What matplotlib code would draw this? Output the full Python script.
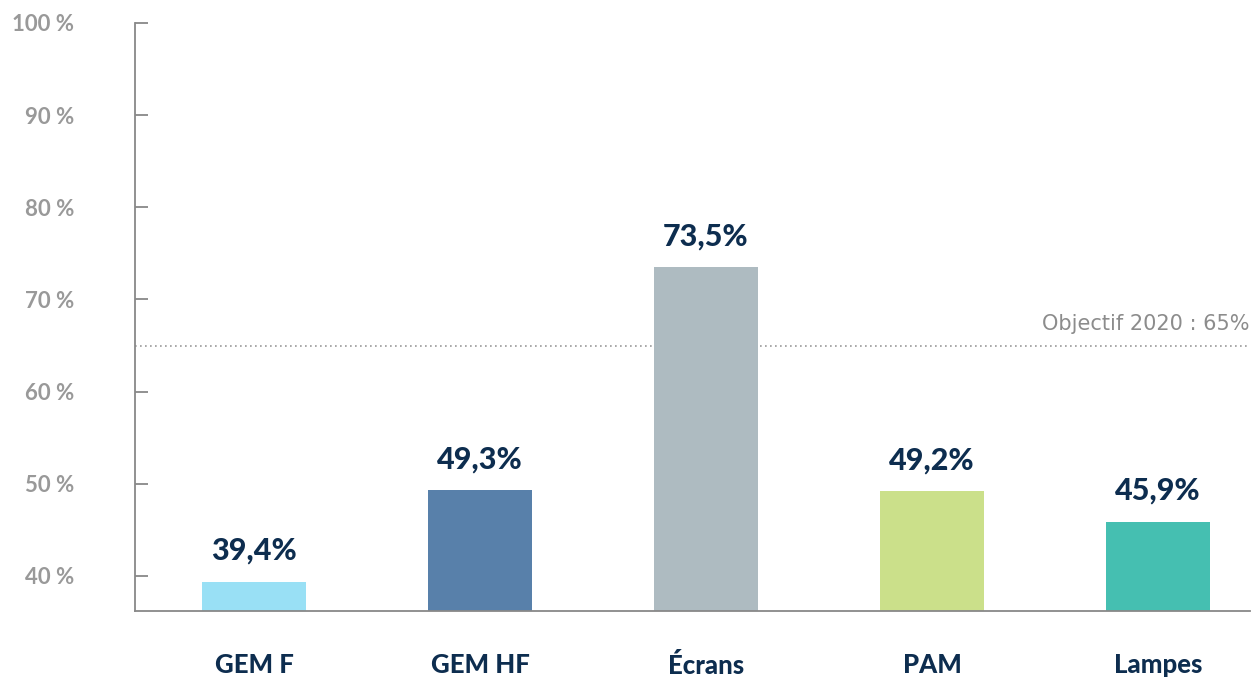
import matplotlib
matplotlib.use("Agg")
import matplotlib.pyplot as plt

categories = ["GEM F", "GEM HF", "Écrans", "PAM", "Lampes"]
values = [39.4, 49.3, 73.5, 49.2, 45.9]
value_labels = ["39,4%", "49,3%", "73,5%", "49,2%", "45,9%"]
colors = ["#99e0f5", "#5880aa", "#aebbc1", "#cbe08a", "#45bfb1"]
yticks = [40, 50, 60, 70, 80, 90, 100]
ytick_labels = ["40 %", "50 %", "60 %", "70 %", "80 %", "90 %", "100 %"]
target = 65
target_label = "Objectif 2020 : 65%"

navy = "#0d2d4f"
grey = "#999999"

fig = plt.figure(figsize=(12.54, 6.79), dpi=100)
ax = fig.add_axes([135/1254, 1-611/679, (1250-135)/1254, (611-20)/679])

ymin = 36.2
ymax = ymin + 591/9.217
positions = [0, 1, 2, 3, 4]
ax.bar(positions, [v - ymin for v in values], bottom=ymin, width=0.46, color=colors, zorder=2)

for x, v, lab in zip(positions, values, value_labels):
    ax.annotate(lab, (x, v), xytext=(0, 12), textcoords="offset points",
                ha="center", va="bottom", fontsize=22, fontweight="black",
                color=navy, family="Lato")

ax.axhline(target, color="#999999", linestyle=(0, (1, 2)), linewidth=1.2, zorder=1)
ax.text(1.0, target + 1.2, target_label, transform=ax.get_yaxis_transform(),
        ha="right", va="bottom", fontsize=15, color="#8c8c8c", family="DejaVu Sans")

ax.set_ylim(ymin, ymax)
ax.set_xlim(-0.527, 4.407)
ax.set_yticks(yticks)
ax.set_yticklabels(ytick_labels, fontsize=16, color=grey, family="Lato", fontweight="bold")
ax.tick_params(axis="y", direction="in", length=9, width=1.3, color="#888888", pad=44)
ax.set_xticks(positions)
ax.set_xticklabels(categories, fontsize=18.5, fontweight="black", color=navy, family="Lato")
ax.tick_params(axis="x", length=0, pad=30)

for s in ["top", "right"]:
    ax.spines[s].set_visible(False)
ax.spines["left"].set_color("#888888")
ax.spines["left"].set_linewidth(1.3)
ax.spines["left"].set_bounds(ymin, 100)
ax.spines["bottom"].set_color("#888888")
ax.spines["bottom"].set_linewidth(1.3)

fig.savefig("out.png", dpi=100)
